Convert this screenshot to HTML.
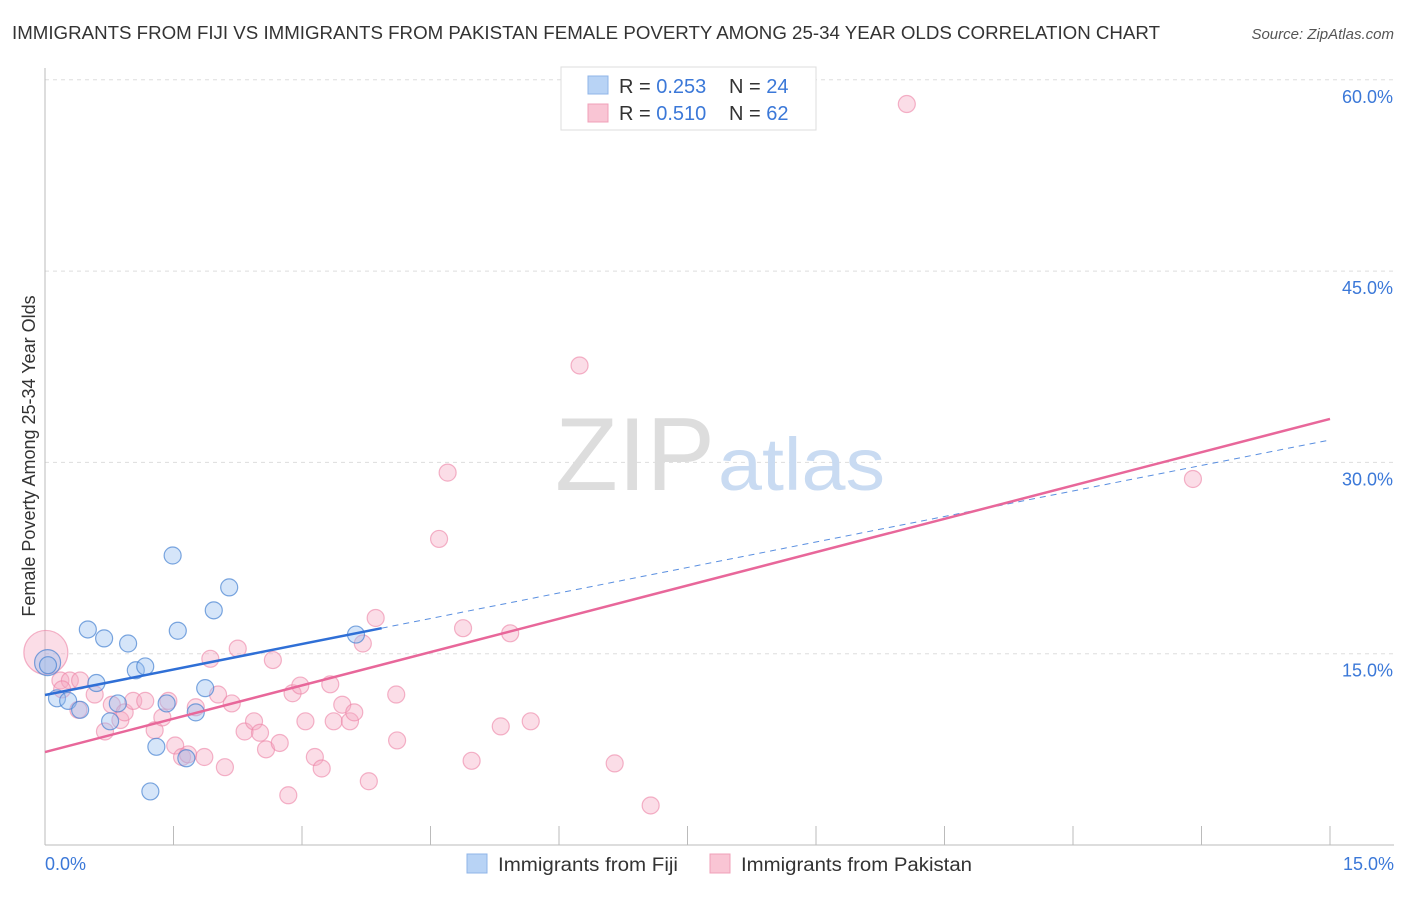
<!DOCTYPE html>
<html><head><meta charset="utf-8"><style>
body{margin:0;background:#fff;font-family:"Liberation Sans",sans-serif;}
svg text{font-family:"Liberation Sans",sans-serif;}
</style></head><body>
<svg id="chart" width="1406" height="892" xmlns="http://www.w3.org/2000/svg">
<text x="12" y="39" font-size="18" fill="#333" textLength="1148" lengthAdjust="spacingAndGlyphs">IMMIGRANTS FROM FIJI VS IMMIGRANTS FROM PAKISTAN FEMALE POVERTY AMONG 25-34 YEAR OLDS CORRELATION CHART</text>
<text x="1394" y="39" font-size="15" fill="#555" text-anchor="end" font-style="italic">Source: ZipAtlas.com</text>
<g id="grid"></g>
<text x="555" y="490" font-size="104" fill="#ddd" textLength="160" lengthAdjust="spacingAndGlyphs" font-family="Liberation Serif">ZIP</text>
<text x="718" y="490" font-size="74" fill="#c9dbf2" textLength="167" lengthAdjust="spacingAndGlyphs">atlas</text>
<line x1="45" y1="68" x2="45" y2="845" stroke="#bbb"/>
<line x1="45" y1="845" x2="1394" y2="845" stroke="#bbb"/>
<g id="ticks"></g>
<g id="pts"></g>
<g id="lines"></g>
<text x="35" y="456" font-size="18" fill="#333" text-anchor="middle" transform="rotate(-90 35 456)">Female Poverty Among 25-34 Year Olds</text>
<text x="45" y="870" font-size="18" fill="#3b78d8">0.0%</text>
<text x="1394" y="870" font-size="18" fill="#3b78d8" text-anchor="end">15.0%</text>
<g>
<rect x="561" y="67" width="255" height="63" fill="#fff" stroke="#ddd"/>
<rect x="588" y="76" width="20" height="18" fill="#b8d3f5" stroke="#8fb5e8"/>
<rect x="588" y="104" width="20" height="18" fill="#f9c5d4" stroke="#f0a0b8"/>
<text x="619" y="93" font-size="20" fill="#333">R = <tspan fill="#3b78d8">0.253</tspan></text>
<text x="729" y="93" font-size="20" fill="#333">N = <tspan fill="#3b78d8">24</tspan></text>
<text x="619" y="120" font-size="20" fill="#333">R = <tspan fill="#3b78d8">0.510</tspan></text>
<text x="729" y="120" font-size="20" fill="#333">N = <tspan fill="#3b78d8">62</tspan></text>
</g>
<g>
<rect x="467" y="854" width="20" height="19" fill="#b8d3f5" stroke="#8fb5e8"/>
<text x="498" y="871" font-size="19" fill="#333" textLength="180" lengthAdjust="spacingAndGlyphs">Immigrants from Fiji</text>
<rect x="710" y="854" width="20" height="19" fill="#f9c5d4" stroke="#f0a0b8"/>
<text x="741" y="871" font-size="19" fill="#333" textLength="231" lengthAdjust="spacingAndGlyphs">Immigrants from Pakistan</text>
</g>
</svg>
<script>
const yTicks=[15,30,45,60];
const yTickLabels=["15.0%","30.0%","45.0%","60.0%"];
const xTicks=[1.5,3,4.5,6,7.5,9,10.5,12,13.5,15];
const fijiX=[0.03,0.035,0.14,0.27,0.41,0.50,0.60,0.69,0.76,0.85,0.97,1.06,1.17,1.23,1.30,1.42,1.49,1.55,1.65,1.76,1.87,1.97,2.15,3.63];
const fijiY=[14.3,14.1,11.5,11.3,10.6,16.9,12.7,16.2,9.7,11.1,15.8,13.7,14.0,4.2,7.7,11.1,22.7,16.8,6.8,10.4,12.3,18.4,20.2,16.5];
const pakX=[0.01,0.18,0.29,0.41,0.20,0.39,0.58,0.70,0.78,0.88,0.93,1.03,1.17,1.28,1.37,1.44,1.52,1.60,1.67,1.76,1.86,1.93,2.02,2.10,2.18,2.25,2.33,2.44,2.51,2.58,2.66,2.74,2.84,2.89,2.98,3.04,3.15,3.23,3.33,3.37,3.47,3.56,3.61,3.71,3.78,3.86,4.10,4.11,4.60,4.70,4.88,4.98,5.32,5.43,5.67,6.24,6.65,7.07,10.06,13.40];
const pakY=[15.1,12.9,12.9,12.9,12.2,10.6,11.8,8.9,11.0,9.8,10.4,11.3,11.3,9.0,10.0,11.3,7.8,6.9,7.1,10.8,6.9,14.6,11.8,6.1,11.1,15.4,8.9,9.7,8.8,7.5,14.5,8.0,3.9,11.9,12.5,9.7,6.9,6.0,12.6,9.7,11.0,9.7,10.4,15.8,5.0,17.8,11.8,8.2,24.0,29.2,17.0,6.6,9.3,16.6,9.7,37.6,6.4,3.1,58.1,28.7];
const fijiLine=[11.76,31.76], pakLine=[7.29,33.41];
const X=v=>45+v/15*1285, Y=v=>845-v/15*191.3;
const NS="http://www.w3.org/2000/svg";
function mk(tag,attrs,parent){const e=document.createElementNS(NS,tag);for(const k in attrs)e.setAttribute(k,attrs[k]);document.getElementById(parent).appendChild(e);return e;}
yTicks.forEach((t,i)=>{
 const l=mk('line',{x1:45,x2:1394,y1:Y(t),y2:Y(t),stroke:'#ddd','stroke-dasharray':'4,4'},'grid');
 
 
 const tx=mk('text',{x:1393,y:Y(t)+23,'font-size':18,fill:'#3b78d8','text-anchor':'end'},'grid');
 tx.textContent=yTickLabels[i];
 
 
});
xTicks.forEach(t=>{
 const l=mk('line',{x1:X(t),x2:X(t),y1:826,y2:845,stroke:'#bbb'},'ticks');
 
 
});
pakX.forEach((x,i)=>{
 const c=mk('circle',{cx:X(x),cy:Y(pakY[i]),r:i==0?22:8.5,fill:'rgba(246,170,194,0.4)',stroke:'rgba(236,130,165,0.6)','stroke-width':1.2},'pts');
 
 
});
fijiX.forEach((x,i)=>{
 const c=mk('circle',{cx:X(x),cy:Y(fijiY[i]),r:i==0?13:8.5,fill:'rgba(150,190,240,0.4)',stroke:'rgba(70,130,210,0.7)','stroke-width':1.2},'pts');
 
 
});
const fy=x=>fijiLine[0]+(fijiLine[1]-fijiLine[0])*x/15;
let l1=mk('line',{x1:X(0),y1:Y(fy(0)),x2:X(3.93),y2:Y(fy(3.93)),stroke:'#2f6fd6','stroke-width':2.5},'lines');


let l2=mk('line',{x1:X(3.93),y1:Y(fy(3.93)),x2:X(15),y2:Y(fy(15)),stroke:'#5a8fe0','stroke-width':1,'stroke-dasharray':'6,5'},'lines');


let l3=mk('line',{x1:X(0),y1:Y(pakLine[0]),x2:X(15),y2:Y(pakLine[1]),stroke:'#e8679a','stroke-width':2.5},'lines');


</script>
</body></html>
